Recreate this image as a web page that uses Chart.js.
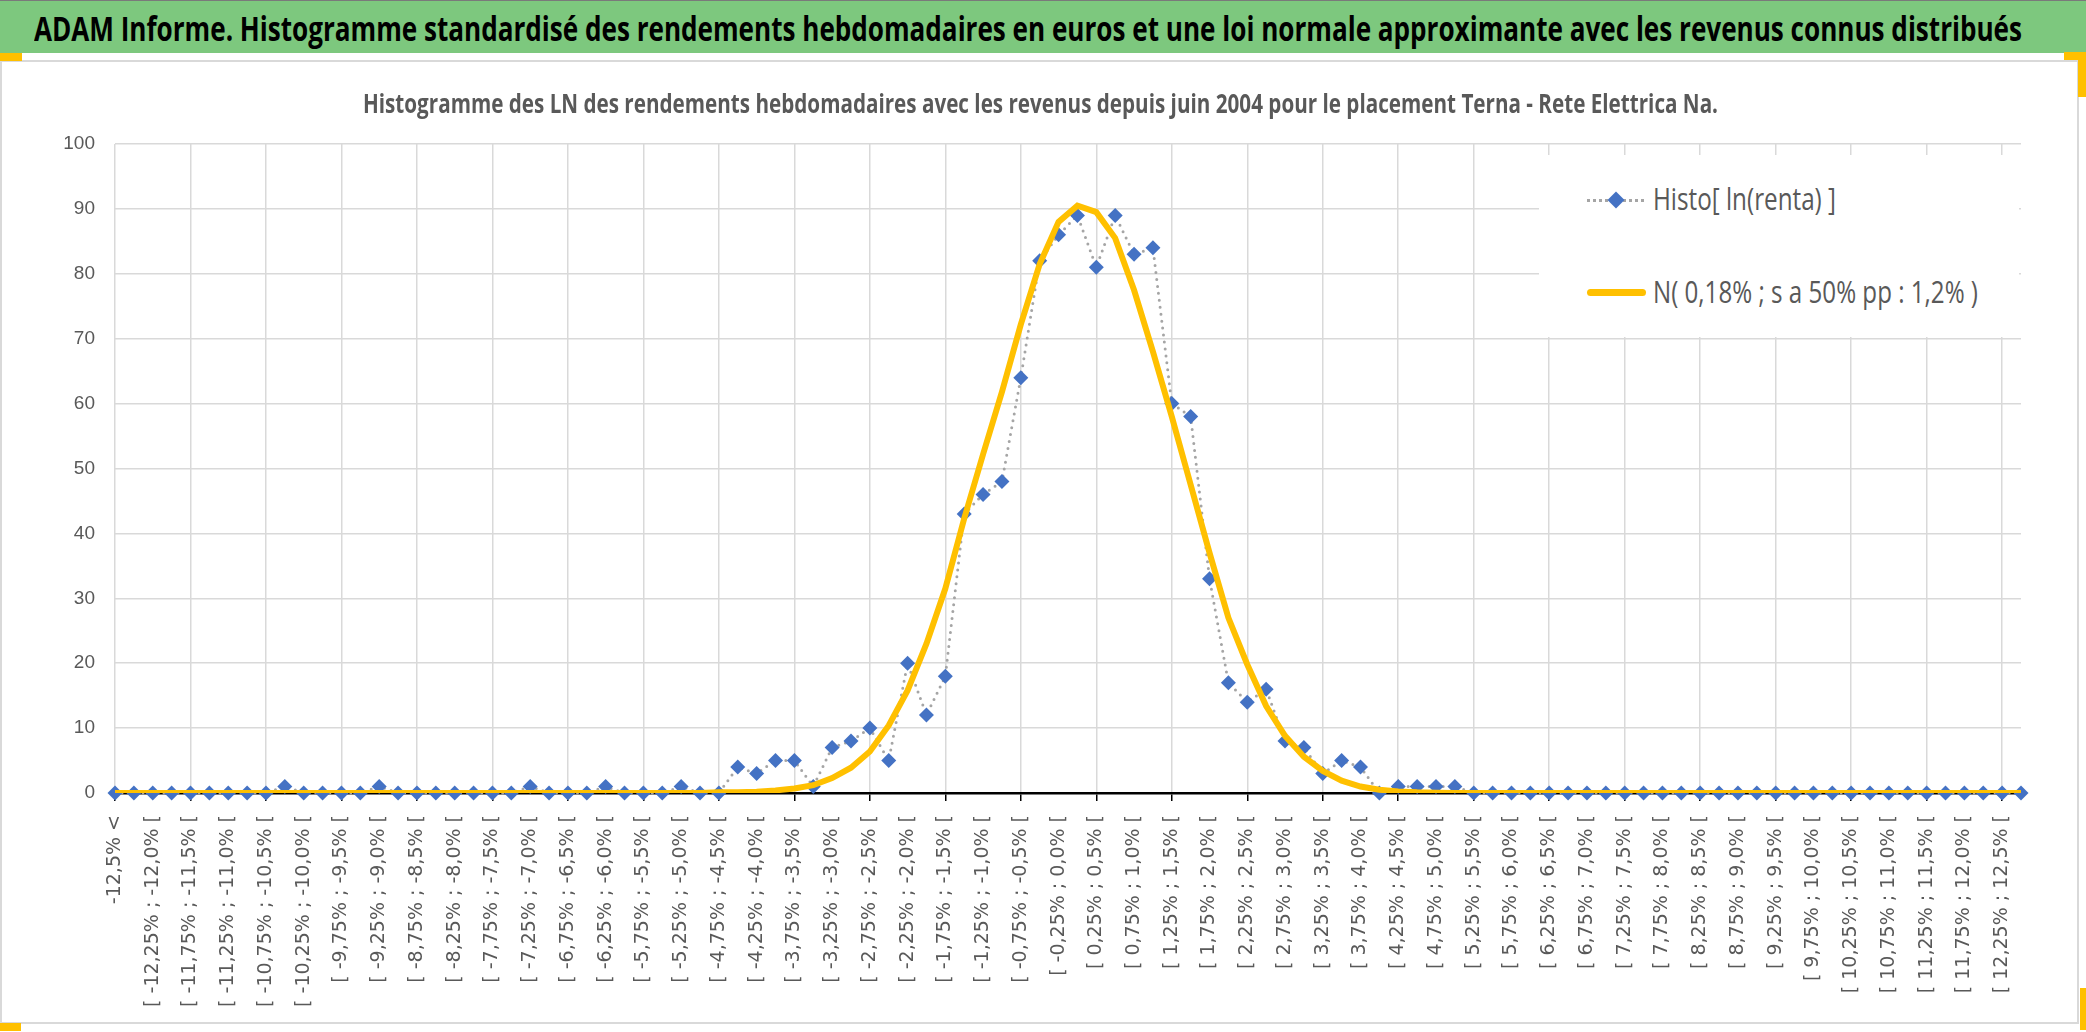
<!DOCTYPE html>
<html>
<head>
<meta charset="utf-8">
<title>Histogramme Terna</title>
<script src="https://cdn.jsdelivr.net/npm/chart.js@4.4.1/dist/chart.umd.min.js"></script>
<style>
  body { margin: 0; width: 2086px; height: 1032px; background: #fff; position: relative; overflow: hidden; }
  #header { position: absolute; left: 0; top: 0; width: 2086px; height: 53px; background: #7dc87e; border-top: 1px solid #7a7a7a; box-sizing: border-box; }
  .fit { position: absolute; margin: 0; white-space: nowrap; line-height: 1; transform-origin: 0 0; font-family: "Open Sans", sans-serif; }
  #title { left: 34px; top: 11px; font-size: 33.5px; font-weight: bold; color: #000; }
  #subtitle { left: 363px; top: 89px; font-size: 27px; font-weight: bold; color: #595959; }
  .ltxt { left: 1653px; font-size: 31px; color: #595959; }
  #frame { position: absolute; left: 0; top: 60px; width: 2079px; height: 964px; border: 2px solid #d9d9d9; box-sizing: border-box; }
  #wrap { position: absolute; left: 0; top: 62px; width: 2076px; height: 960px; }
  .mark { position: absolute; background: #ffc000; }
  #legend { position: absolute; left: 1539px; top: 155px; width: 480px; height: 182px; background: #fff; }
  #dots { position: absolute; left: 1587px; top: 199px; width: 57px; border-top: 3px dotted #a5a5a5; }
  #diamond { position: absolute; left: 1610px; top: 194px; width: 12px; height: 12px; background: #4472c4; transform: rotate(45deg) scale(1, 1); }
  #yline { position: absolute; left: 1587px; top: 289px; width: 59px; height: 7px; border-radius: 3.5px; background: #ffc000; }
</style>
</head>
<body>
<div id="header"><h1 id="title" class="fit" data-w="1988">ADAM Informe. Histogramme standardisé des rendements hebdomadaires en euros et une loi normale approximante avec les revenus connus distribués</h1></div>
<div id="frame"></div>
<div class="mark" style="left:0;top:53px;width:22px;height:8px"></div>
<div class="mark" style="left:2064px;top:52px;width:22px;height:8px"></div>
<div class="mark" style="left:2078px;top:52px;width:8px;height:45px"></div>
<div class="mark" style="left:0;top:1023px;width:21px;height:8px"></div>
<div class="mark" style="left:2080px;top:988px;width:6px;height:42px"></div>
<div id="wrap"><canvas id="myChart"></canvas></div>
<div id="subtitle" class="fit" data-w="1355">Histogramme des LN des rendements hebdomadaires avec les revenus depuis juin 2004 pour le placement Terna - Rete Elettrica Na.</div>
<div id="legend"></div>
<div id="dots"></div><div id="diamond"></div>
<div class="fit ltxt" data-w="183" style="top:183px">Histo[ ln(renta) ]</div>
<div id="yline"></div>
<div class="fit ltxt" data-w="325" style="top:276px">N( 0,18% ; s a 50% pp : 1,2% )</div>
<script>
// bins of 0.25% from -12.5% to 12.5%, plus the two open-ended ones
const binStart = -12.5;
const binWidth = 0.25;
const binCount = 100;

// weekly counts per bin
const histoValues = [
    0, 0, 0, 0, 0, 0, 0, 0, 0, 1,
    0, 0, 0, 0, 1, 0, 0, 0, 0, 0,
    0, 0, 1, 0, 0, 0, 1, 0, 0, 0,
    1, 0, 0, 4, 3, 5, 5, 1, 7, 8,
    10, 5, 20, 12, 18, 43, 46, 48, 64, 82,
    86, 89, 81, 89, 83, 84, 60, 58, 33, 17,
    14, 16, 8, 7, 3, 5, 4, 0, 1, 1,
    1, 1, 0, 0, 0, 0, 0, 0, 0, 0,
    0, 0, 0, 0, 0, 0, 0, 0, 0, 0,
    0, 0, 0, 0, 0, 0, 0, 0, 0, 0,
    0, 0
];

// approximating normal law, same bins
const normalValues = [
    0, 0, 0, 0, 0, 0, 0, 0, 0, 0,
    0, 0, 0, 0, 0, 0, 0, 0, 0, 0,
    0, 0, 0, 0, 0, 0, 0, 0, 0, 0,
    0, 0, 0.1, 0.1, 0.2, 0.4, 0.7, 1.2, 2.3, 3.9,
    6.4, 10.4, 15.8, 23.0, 31.5, 42.3, 52.2, 61.8, 72.2, 81.5,
    88.0, 90.5, 89.5, 85.5, 77.5, 68.0, 58.0, 47.5, 37.0, 27.0,
    19.8, 13.4, 8.8, 5.6, 3.4, 1.9, 1.0, 0.5, 0.25, 0.1,
    0.05, 0, 0, 0, 0, 0, 0, 0, 0, 0,
    0, 0, 0, 0, 0, 0, 0, 0, 0, 0,
    0, 0, 0, 0, 0, 0, 0, 0, 0, 0,
    0, 0
];

const yMin = 0;
const yMax = 100;
const yStep = 10;

function pct(v) {
    let s = (Math.abs(v * 2 - Math.round(v * 2)) < 1e-9) ? v.toFixed(1) : v.toFixed(2);
    return s.replace('.', ',') + '%';
}

let binLabels = [pct(binStart) + ' <'];
for (let k = 0; k < binCount; k++) {
    let a = binStart + k * binWidth;
    binLabels.push('[ ' + pct(a) + ' ; ' + pct(a + binWidth) + ' [');
}
binLabels.push('>= ' + pct(binStart + binCount * binWidth));

// squeeze the html texts to the width they have in the picture
function fitTexts() {
    for (let el of document.querySelectorAll('.fit')) {
        el.style.transform = 'none';
        let w = el.getBoundingClientRect().width;
        el.style.transform = 'scaleX(' + (Number(el.dataset.w) / w) + ')';
    }
}
fitTexts();
document.fonts.ready.then(fitTexts);

Chart.defaults.font.family = '"Liberation Sans", sans-serif';
Chart.defaults.color = '#595959';

const data = {
    labels: binLabels,
    datasets: [{
        label: 'N( 0,18% ; s a 50% pp : 1,2% )',
        data: normalValues,
        borderColor: '#ffc000',
        borderWidth: 6,
        pointRadius: 0,
        tension: 0,
        order: 0
    }, {
        label: 'Histo[ ln(renta) ]',
        data: histoValues,
        borderColor: '#a5a5a5',
        borderWidth: 3,
        borderDash: [0, 7],
        borderCapStyle: 'round',
        pointStyle: 'rectRot',
        pointRadius: 7.5,
        pointBackgroundColor: '#4472c4',
        pointBorderColor: '#4472c4',
        pointBorderWidth: 0,
        tension: 0,
        clip: false,
        order: 1
    }]
};

const config = {
    type: 'line',
    data: data,
    options: {
        responsive: true,
        maintainAspectRatio: false,
        animation: false,
        layout: { padding: { left: 0, right: 55, top: 82, bottom: 0 } },
        plugins: {
            legend: { display: false },
            tooltip: { enabled: false },
            title: { display: false }
        },
        scales: {
            x: {
                afterFit: function (scale) { scale.height = 229; },
                border: { color: '#000', width: 2.5 },
                grid: {
                    lineWidth: 1.5,
                    tickLength: 8,
                    color: (ctx) => ctx.index % 4 === 0 ? '#d9d9d9' : 'rgba(0,0,0,0)',
                    tickColor: (ctx) => ctx.index % 4 === 0 ? '#000' : 'rgba(0,0,0,0)'
                },
                ticks: {
                    autoSkip: false,
                    minRotation: 90,
                    maxRotation: 90,
                    padding: 14,
                    color: '#595959',
                    font: { family: '"DejaVu Sans", sans-serif', size: 19 },
                    callback: function (value, index) {
                        return index % 2 === 0 ? this.getLabelForValue(value) : '';
                    }
                }
            },
            y: {
                min: yMin,
                max: yMax,
                afterFit: function (scale) { scale.width = 115; },
                border: { display: false },
                grid: { color: '#d9d9d9', lineWidth: 1.5, drawTicks: false },
                ticks: {
                    stepSize: yStep,
                    padding: 20,
                    color: '#595959',
                    font: { size: 19 }
                }
            }
        }
    }
};

const myChart = new Chart(document.getElementById('myChart'), config);
</script>
</body>
</html>
